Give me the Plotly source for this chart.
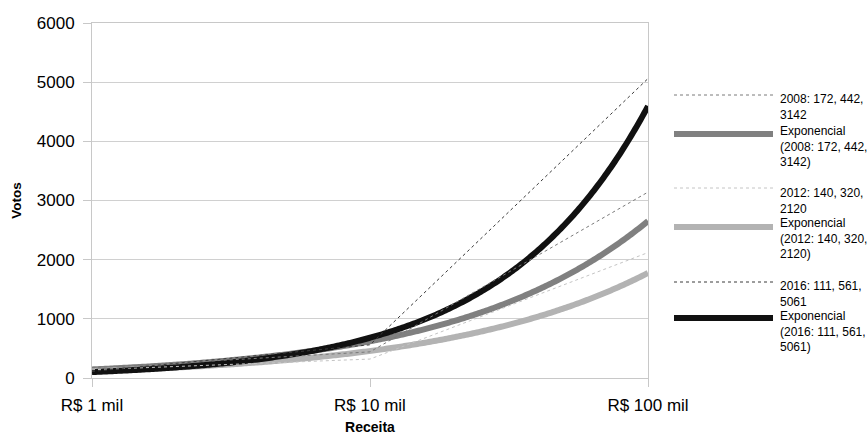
import numpy as np
import plotly.graph_objects as go

categories = ["R$ 1 mil", "R$ 10 mil", "R$ 100 mil"]
x_pos = [1, 2, 3]
y_ticks = [0, 1000, 2000, 3000, 4000, 5000, 6000]

votos_2008 = [172, 442, 3142]
votos_2012 = [140, 320, 2120]
votos_2016 = [111, 561, 5061]

series = [
    ("2008: 172, 442,<br>3142", "Exponencial<br>(2008: 172, 442,<br>3142)", votos_2008, "#7a7a7a", "#808080"),
    ("2012: 140, 320,<br>2120", "Exponencial<br>(2012: 140, 320,<br>2120)", votos_2012, "#c4c4c4", "#b3b3b3"),
    ("2016: 111, 561,<br>5061", "Exponencial<br>(2016: 111, 561,<br>5061)", votos_2016, "#3a3a3a", "#111111"),
]

W, H = 867, 435
L, R, T, B = 92, 219, 23, 57
pw, ph = W - L - R, H - T - B


def px_x(px):
    return (px - L) / pw


def px_y(py):
    return (H - B - py) / ph


fig = go.Figure()
xs = np.linspace(1, 3, 300)
for name, tname, vals, dcol, tcol in series:
    b, ln_a = np.polyfit(x_pos, np.log(vals), 1)
    fig.add_trace(go.Scatter(x=xs, y=np.exp(ln_a + b * xs), mode="lines",
                             line=dict(color=tcol, width=6, simplify=False),
                             showlegend=False, hoverinfo="skip"))
for name, tname, vals, dcol, tcol in series:
    fig.add_trace(go.Scatter(x=x_pos, y=vals, mode="lines",
                             line=dict(color=dcol, width=1, dash="3px,3px"),
                             showlegend=False))

# custom legend: (symbol y, text block centre y) in pixels
legend_rows = [(95, 107), (134, 146.5), (188, 200.5), (227, 238.5), (282, 294), (318, 331.5)]
shapes = []
annotations = []
i = 0
for name, tname, vals, dcol, tcol in series:
    for label, col, w, dash in [(name, dcol, 1, "3px,3px"), (tname, tcol, 6, "solid")]:
        sy, ty = legend_rows[i]
        shapes.append(dict(type="line", xref="paper", yref="paper",
                           x0=px_x(674), x1=px_x(773), y0=px_y(sy), y1=px_y(sy),
                           line=dict(color=col, width=w, dash=dash)))
        annotations.append(dict(xref="paper", yref="paper", x=px_x(779), y=px_y(ty),
                                text=label, showarrow=False, xanchor="left",
                                yanchor="middle", align="left", borderpad=0,
                                font=dict(size=12, color="#000000",
                                          family="Liberation Sans, Arial, sans-serif")))
        i += 1

fig.update_layout(
    width=W, height=H,
    margin=dict(l=L, r=R, t=T, b=B),
    paper_bgcolor="white", plot_bgcolor="white",
    font=dict(family="Liberation Sans, Arial, sans-serif", color="#000000"),
    shapes=shapes, annotations=annotations,
    xaxis=dict(range=[1, 3], tickvals=x_pos, ticktext=categories, automargin=False,
               showgrid=False, zeroline=False, showline=True, linecolor="#c8c8c8",
               mirror=True, ticks="outside", ticklen=8, tickcolor="#c8c8c8",
               tickfont=dict(size=17), ticklabelstandoff=4,
               title=dict(text="<b>Receita</b>", font=dict(size=14), standoff=10)),
    yaxis=dict(range=[0, 6000], tickvals=y_ticks, showgrid=True, gridcolor="#d0d0d0",
               gridwidth=1, zeroline=False, showline=True, linecolor="#c8c8c8",
               automargin=False,
               mirror=True, ticks="outside", ticklen=8, tickcolor="#c8c8c8",
               tickfont=dict(size=17), ticklabelstandoff=5,
               title=dict(text="<b>Votos</b>", font=dict(size=13.5), standoff=12)),
)

fig.write_html("out.html", config={"displayModeBar": False},
               post_script="document.body.style.margin='0';")
